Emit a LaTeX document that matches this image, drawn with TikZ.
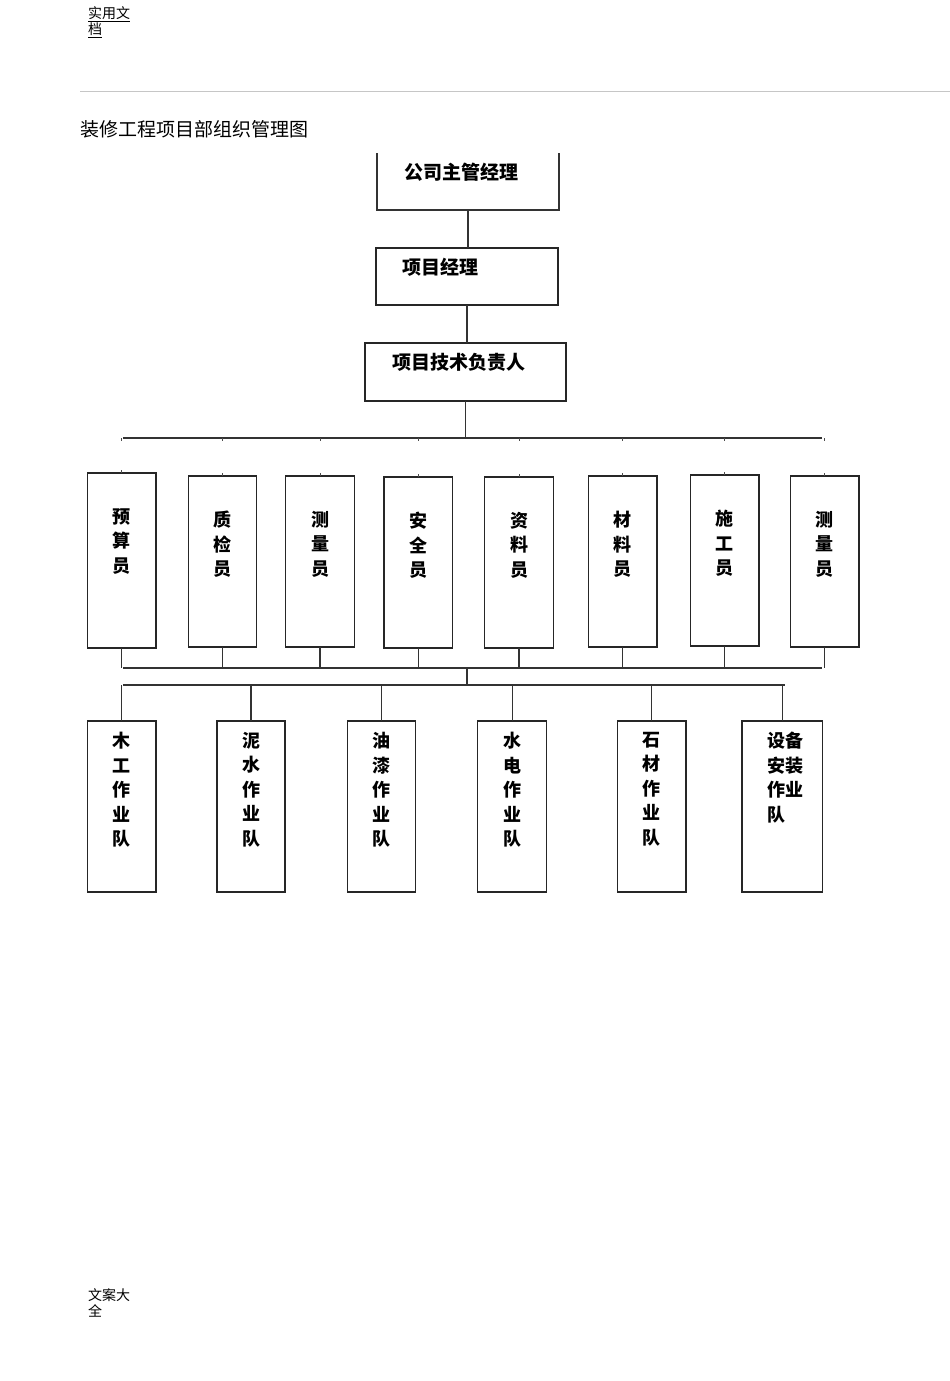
\documentclass[tikz,border=0pt]{standalone}
\usepackage{fontspec}
\newfontfamily\cjk{Noto Sans CJK SC}
\begin{document}
\begin{tikzpicture}[x=1pt,y=-1pt,
  box/.style={draw=black!85,line width=1.2pt,inner sep=0pt,outer sep=0pt},
  nobox/.style={inner sep=0pt,outer sep=0pt},
  wire/.style={draw=black!80,line width=1.2pt},
  tick/.style={draw=black!70,line width=0.8pt},
  toptxt/.style={inner sep=0pt,font=\cjk\bfseries\fontsize{19}{22}\selectfont},
  vtxt/.style={inner sep=0pt,anchor=north,align=center,font=\cjk\bfseries\fontsize{18}{24.5}\selectfont},
  small/.style={inner sep=0pt,anchor=west,align=left,font=\cjk\fontsize{14}{16}\selectfont}]
\useasboundingbox[fill=white] (0,0) rectangle (950,1381);
% header
\node[small] (hdr) at (88,22) {\underline{实用文}\\\underline{档}};
\draw[gray!45,line width=0.8pt] (80,91) -- (950,91);
\node[inner sep=0pt,anchor=west,font=\cjk\fontsize{19}{22}\selectfont] (title) at (80,129) {装修工程项目部组织管理图};
\node[small] (ftr) at (88,1303) {文案大\\全};
% top chain
\node[nobox,minimum width=182pt,minimum height=57pt] (m0) at (468,181.5) {};
\draw[wire] (m0.north west) -- (m0.south west) -- (m0.south east) -- (m0.north east);
\node[toptxt] (t0) at (461,172) {公司主管经理};
\node[box,minimum width=182pt,minimum height=57pt] (m1) at (467,276.5) {};
\node[toptxt] (t1) at (440,267) {项目经理};
\node[box,minimum width=201pt,minimum height=58pt] (m2) at (465.5,372) {};
\node[toptxt] (t2) at (458.5,362) {项目技术负责人};
\draw[wire] (m0.south) -- (m0.south |- m1.north);
\draw[wire] (m1.south) -- (m1.south |- m2.north);
% bus 1
\coordinate (b1L) at (123,438);
\coordinate (b1R) at (822,438);
\draw[wire] (m2.south) -- (m2.south |- b1L);
\draw[wire] (b1L) -- (b1R);
% upper row
\foreach \n/\cx/\top/\bot/\t in {
  u1/121.7/473/648/预\\算\\员,
  u2/222.5/476/647/质\\检\\员,
  u3/320/476/647/测\\量\\员,
  u4/418.3/477/648/安\\全\\员,
  u5/519/477/648/资\\料\\员,
  u6/622.8/476/647/材\\料\\员,
  u7/724.8/475/646/施\\工\\员,
  u8/824.8/476/647/测\\量\\员}{
  \pgfmathsetmacro{\cy}{(\top+\bot)/2}
  \pgfmathsetmacro{\hh}{\bot-\top}
  \node[box,minimum width=68.5pt,minimum height=\hh pt] (\n) at (\cx,\cy) {};
  \node[vtxt] (\n t) at ([yshift=-35pt]\n.north) {\t};
  \draw[tick] (\n.north |- b1L) -- ++(0,3);
  \draw[tick] (\n.north) -- ++(0,-3);
}
% collector
\coordinate (c1L) at (123,668);
\coordinate (c1R) at (822,668);
\draw[wire] (c1L) -- (c1R);
\foreach \n in {u1,u2,u3,u4,u5,u6,u7,u8}{
  \draw[wire] (\n.south) -- (\n.south |- c1L);
}
% bus 2
\coordinate (c2L) at (123,685);
\coordinate (c2R) at (785,685);
\coordinate (j1) at (467,668);
\draw[wire] (j1) -- (j1 |- c2L);
\draw[wire] (c2L) -- (c2R);
% lower row
\foreach \n/\xa/\xb/\t in {
  l1/87.3/156/木\\工\\作\\业\\队,
  l2/217/285/泥\\水\\作\\业\\队,
  l3/347.7/415.7/油\\漆\\作\\业\\队,
  l4/477.7/546.7/水\\电\\作\\业\\队,
  l5/617.7/686/石\\材\\作\\业\\队}{
  \pgfmathsetmacro{\cx}{(\xa+\xb)/2}
  \pgfmathsetmacro{\ww}{\xb-\xa}
  \node[box,minimum width=\ww pt,minimum height=171pt] (\n) at (\cx,806.5) {};
  \node[vtxt] (\n t) at ([yshift=-11pt]\n.north) {\t};
  \draw[wire] (\n.north |- c2L) -- (\n.north);
}
\node[box,minimum width=80.7pt,minimum height=171pt] (l6) at (782.3,806.5) {};
\node[vtxt,anchor=north west,align=left] (l6t) at (767,732) {设备\\安装\\作业\\队};
\draw[wire] (l6.north |- c2L) -- (l6.north);
\end{tikzpicture}
\end{document}
